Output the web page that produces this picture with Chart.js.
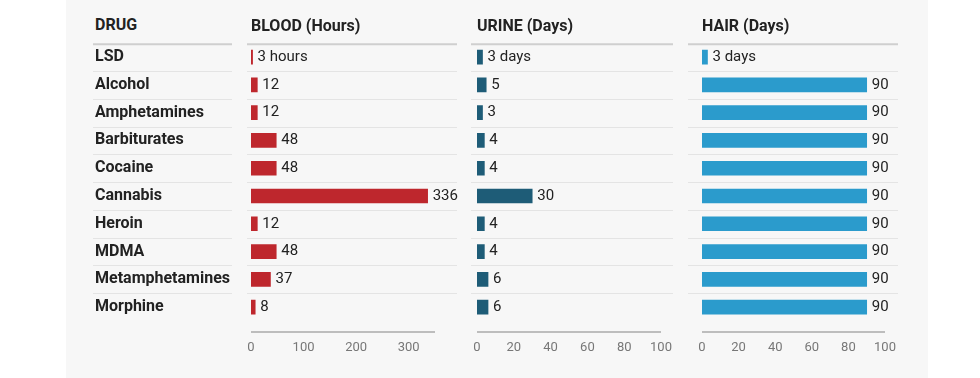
<!DOCTYPE html>
<html>
<head>
<meta charset="utf-8">
<script src="https://cdn.jsdelivr.net/npm/chart.js@4"></script>
<style>
  body { margin: 0; background: #fff; font-family: Roboto, sans-serif; }
  #wrap { position: relative; width: 980px; height: 378px; overflow: hidden; }
  #panel { position: absolute; left: 66px; top: 0; width: 862px; height: 378px; background: #f7f7f7; }
  .box { position: absolute; top: 0; height: 378px; }
  #drugHead { position: absolute; left: 95px; top: 15px; line-height: 20px; font: bold 16px Roboto; color: #222; }
</style>
</head>
<body>
<div id="wrap">
  <div id="panel"></div>
  <div id="drugHead">DRUG</div>
  <div class="box" style="left:80px"><canvas id="bloodChart" width="385" height="378"></canvas></div>
  <div class="box" style="left:465px"><canvas id="urineChart" width="215" height="378"></canvas></div>
  <div class="box" style="left:680px"><canvas id="hairChart" width="248" height="378"></canvas></div>
</div>
<script>
const drugs = ['LSD', 'Alcohol', 'Amphetamines', 'Barbiturates', 'Cocaine', 'Cannabis', 'Heroin', 'MDMA', 'Metamphetamines', 'Morphine'];
const bloodHours = [3, 12, 12, 48, 48, 336, 12, 48, 37, 8];
const urineDays = [3, 5, 3, 4, 4, 30, 4, 4, 6, 6];
const hairDays = [3, 90, 90, 90, 90, 90, 90, 90, 90, 90];
const bloodTicks = [0, 100, 200, 300];
const dayTicks = [0, 20, 40, 60, 80, 100];

// row separators, header rule and the short bottom axis line
const rowLines = {
  id: 'rowLines',
  beforeDatasetsDraw(chart, args, opts) {
    const { ctx, chartArea, scales } = chart;
    const y = scales.y;
    const step = y.getPixelForValue(1) - y.getPixelForValue(0);
    ctx.save();
    opts.segments.forEach(([a, b]) => {
      const x0 = chartArea.left + a, x1 = chartArea.left + b;
      drugs.forEach((d, i) => {
        ctx.beginPath();
        if (i === 0) {
          ctx.strokeStyle = '#cfcfcf';
          ctx.lineWidth = 2;
          ctx.moveTo(x0, chartArea.top + 1);
          ctx.lineTo(x1, chartArea.top + 1);
        } else {
          const yy = Math.round(y.getPixelForValue(i) - step / 2) + 0.5;
          ctx.strokeStyle = '#e4e4e4';
          ctx.lineWidth = 1;
          ctx.moveTo(x0, yy);
          ctx.lineTo(x1, yy);
        }
        ctx.stroke();
      });
    });
    const x = scales.x;
    ctx.beginPath();
    ctx.strokeStyle = '#bdbdbd';
    ctx.lineWidth = 2;
    ctx.moveTo(x.left, chartArea.bottom + 11);
    ctx.lineTo(x.right, chartArea.bottom + 11);
    ctx.stroke();
    ctx.restore();
  }
};

const valueLabels = {
  id: 'valueLabels',
  afterDatasetsDraw(chart, args, opts) {
    const { ctx } = chart;
    const data = chart.data.datasets[0].data;
    ctx.save();
    ctx.font = '15px Roboto';
    ctx.fillStyle = '#222';
    ctx.textBaseline = 'middle';
    chart.getDatasetMeta(0).data.forEach((bar, i) => {
      const txt = i === 0 ? `${data[i]} ${opts.unit}` : `${data[i]}`;
      ctx.fillText(txt, bar.x + 5, bar.y);
    });
    ctx.restore();
  }
};

function makeChart(id, title, values, color, max, ticks, unit, segments, pad, showDrugs) {
  return new Chart(document.getElementById(id), {
    type: 'bar',
    data: {
      labels: drugs,
      datasets: [{ data: values, backgroundColor: color, barThickness: 14 }]
    },
    options: {
      indexAxis: 'y',
      responsive: false,
      animation: false,
      devicePixelRatio: 1,
      layout: { padding: pad },
      plugins: {
        legend: { display: false },
        tooltip: { enabled: false },
        title: {
          display: true, text: title, align: 'start', fullSize: false,
          color: '#222', font: { family: 'Roboto', size: 16, weight: 'bold' },
          padding: { top: 17, bottom: 7 }
        },
        rowLines: { segments },
        valueLabels: { unit }
      },
      scales: {
        x: {
          min: 0, max: max,
          afterBuildTicks: s => { s.ticks = ticks.map(v => ({ value: v })); },
          afterFit: s => { s.height = 57; s.paddingLeft = 0; s.paddingRight = 0; },
          grid: { display: false, drawTicks: false },
          border: { display: false },
          ticks: { padding: 19, color: '#777', font: { family: 'Roboto', size: 13 }, maxRotation: 0 }
        },
        y: {
          display: showDrugs,
          afterFit: s => { s.width = showDrugs ? 156 : 0; },
          grid: { display: false, drawTicks: false },
          border: { display: false },
          ticks: { crossAlign: 'far', padding: 0, color: '#222', font: { family: 'Roboto', size: 16, weight: 'bold' } }
        }
      }
    },
    plugins: [rowLines, valueLabels]
  });
}

makeChart('bloodChart', 'BLOOD (Hours)', bloodHours, '#be272d', 350, bloodTicks, 'hours',
  [[-158, -19], [-4, 206]], { left: 15, right: 30, top: 0, bottom: 0 }, true);
makeChart('urineChart', 'URINE (Days)', urineDays, '#1e5c77', 100, dayTicks, 'days',
  [[-6, 196]], { left: 12, right: 19, top: 0, bottom: 0 }, false);
makeChart('hairChart', 'HAIR (Days)', hairDays, '#2b9bcc', 100, dayTicks, 'days',
  [[-14, 196]], { left: 22, right: 43, top: 0, bottom: 0 }, false);
</script>
</body>
</html>
